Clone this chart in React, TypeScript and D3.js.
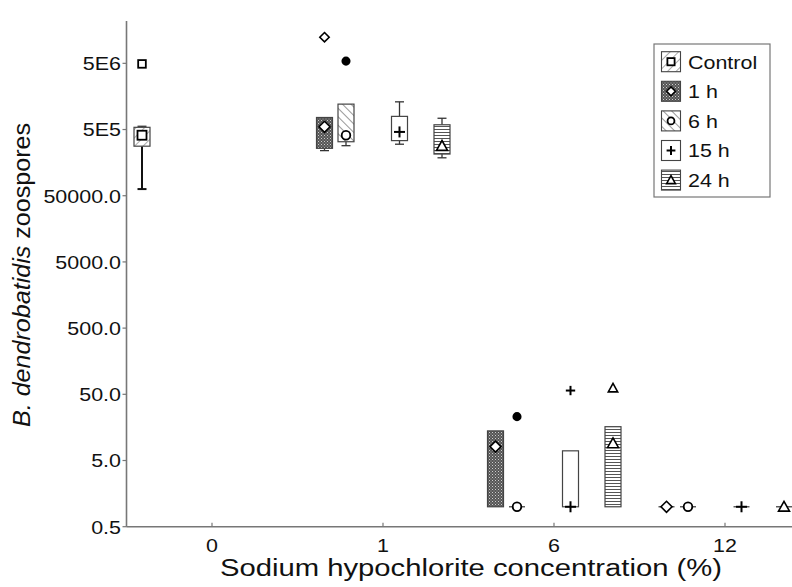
import React, { useEffect } from "react";
import * as d3 from "d3";

const categories = ["0", "1", "6", "12"];
const seriesNames = ["Control", "1 h", "6 h", "15 h", "24 h"];
const yTickValues = [0.5, 5, 50, 500, 5000, 50000, 500000, 5000000];
const yTickLabels = ["0.5", "5.0", "50.0", "500.0", "5000.0", "50000.0", "5E5", "5E6"];

type Box = { cat: string; min: number; q1: number; median: number; q3: number; max: number; outliers: number[] };

const controlBoxes: Box[] = [
  { cat: "0", min: 6.3e4, q1: 2.8e5, median: 4.1e5, q3: 5.4e5, max: 5.6e5, outliers: [4.9e6] },
];
const h1Boxes: Box[] = [
  { cat: "1", min: 2.4e5, q1: 2.6e5, median: 5.5e5, q3: 7.6e5, max: 7.6e5, outliers: [1.24e7] },
  { cat: "6", min: 1, q1: 1, median: 8.1, q3: 14, max: 14, outliers: [] },
  { cat: "12", min: 1, q1: 1, median: 1, q3: 1, max: 1, outliers: [] },
];
const h6Boxes: Box[] = [
  { cat: "1", min: 2.85e5, q1: 3.27e5, median: 4.1e5, q3: 1.21e6, max: 1.21e6, outliers: [5.4e6] },
  { cat: "6", min: 1, q1: 1, median: 1, q3: 1, max: 1, outliers: [23] },
  { cat: "12", min: 1, q1: 1, median: 1, q3: 1, max: 1, outliers: [] },
];
const h15Boxes: Box[] = [
  { cat: "1", min: 3.0e5, q1: 3.4e5, median: 4.6e5, q3: 7.9e5, max: 1.31e6, outliers: [] },
  { cat: "6", min: 1, q1: 1, median: 1, q3: 7.0, max: 7.0, outliers: [57] },
  { cat: "12", min: 1, q1: 1, median: 1, q3: 1, max: 1, outliers: [] },
];
const h24Boxes: Box[] = [
  { cat: "1", min: 1.87e5, q1: 2.13e5, median: 2.82e5, q3: 5.9e5, max: 7.4e5, outliers: [] },
  { cat: "6", min: 1, q1: 1, median: 9.1, q3: 16.2, max: 16.2, outliers: [62] },
  { cat: "12", min: 1, q1: 1, median: 1, q3: 1, max: 1, outliers: [] },
];

const allSeries = [controlBoxes, h1Boxes, h6Boxes, h15Boxes, h24Boxes];

// layout / style
const W = 792, H = 587;
const LEFT = 126.5, BOTTOM = 526.7, TOP = 21;
const seriesOffsets = [-70, -58.5, -37, 16.5, 59];
const fills = ["url(#pCtrl)", "url(#p1h)", "url(#p6h)", "#fff", "url(#p24h)"];
const markers = ["square", "diamond", "circle", "plus", "triangle"];
const outlierFilled = [false, false, true, false, false];
const FONT = "'Liberation Sans', Arial, Helvetica, sans-serif";
const SX = 1.13;

function Marker({ type, x, y, filled, scale = 1 }: { type: string; x: number; y: number; filled?: boolean; scale?: number }) {
  const f = filled ? "#000" : "#fff";
  const sw = 1.8;
  if (type === "square") {
    const s = 9 * scale;
    return <rect x={x - s / 2} y={y - s / 2} width={s} height={s} fill={f} stroke="#000" strokeWidth={sw} />;
  }
  if (type === "diamond") {
    const r = 5.5 * scale;
    return <path d={`M${x},${y - r}L${x + r},${y}L${x},${y + r}L${x - r},${y}Z`} fill={f} stroke="#000" strokeWidth={sw * 0.9} />;
  }
  if (type === "circle") {
    return <circle cx={x} cy={y} r={4.3 * scale} fill={f} stroke="#000" strokeWidth={sw} />;
  }
  if (type === "plus") {
    const r = 5.5 * scale;
    return (
      <g stroke="#000" strokeWidth={2}>
        <line x1={x - r} x2={x + r} y1={y} y2={y} />
        <line x1={x} x2={x} y1={y - r} y2={y + r} />
      </g>
    );
  }
  const r = 5.5 * scale;
  return (
    <path
      d={`M${x},${y - r}L${x + r},${y + r * 0.8}L${x - r},${y + r * 0.8}Z`}
      fill={f}
      stroke="#000"
      strokeWidth={1.6}
    />
  );
}

export default function App() {
  useEffect(() => {
    document.body.style.margin = "0";
  }, []);

  const xBand = d3.scaleBand<string>().domain(categories).range([LEFT, LEFT + 4 * 171]).padding(0);
  const y = d3.scaleLog().domain([0.5, 2.18e7]).range([BOTTOM, TOP]);
  const cx = (cat: string) => (xBand(cat) as number) + xBand.bandwidth() / 2;
  const boxW = 16;
  const capW = 9;

  return (
    <svg width={W} height={H} style={{ position: "absolute", left: 0, top: 0, background: "#fff" }} fontFamily={FONT}>
      <defs>
        <pattern id="pCtrl" width="6" height="6" patternUnits="userSpaceOnUse" patternTransform="rotate(45)">
          <rect width="6" height="6" fill="#fff" />
          <line x1="0" y1="0" x2="0" y2="6" stroke="#555" strokeWidth="1" />
        </pattern>
        <pattern id="p6h" width="6" height="6" patternUnits="userSpaceOnUse" patternTransform="rotate(-45)">
          <rect width="6" height="6" fill="#fff" />
          <line x1="0" y1="0" x2="0" y2="6" stroke="#444" strokeWidth="1.1" />
        </pattern>
        <pattern id="p1h" width="3" height="3" patternUnits="userSpaceOnUse">
          <rect width="3" height="3" fill="#555" />
          <rect x="0" y="0" width="1" height="1" fill="#ccc" />
          <rect x="1.5" y="1.5" width="1" height="1" fill="#aaa" />
        </pattern>
        <pattern id="p24h" width="4" height="3" patternUnits="userSpaceOnUse">
          <rect width="4" height="3" fill="#fff" />
          <line x1="0" y1="0.5" x2="4" y2="0.5" stroke="#555" strokeWidth="1" />
        </pattern>
      </defs>

      {/* axes */}
      <line x1={LEFT} x2={LEFT} y1={TOP} y2={BOTTOM} stroke="#777" strokeWidth={1.6} />
      <line x1={LEFT} x2={W} y1={BOTTOM} y2={BOTTOM} stroke="#777" strokeWidth={1.6} />
      {yTickValues.map((v, i) => (
        <g key={v}>
          <line x1={LEFT - 4} x2={LEFT} y1={y(v)} y2={y(v)} stroke="#777" strokeWidth={1.2} />
          <text transform={`translate(121,${y(v)}) scale(${SX},1)`} dy="0.36em" textAnchor="end" fontSize={19} fill="#111">
            {yTickLabels[i]}
          </text>
        </g>
      ))}
      {categories.map((c) => (
        <g key={c}>
          <line x1={cx(c)} x2={cx(c)} y1={BOTTOM} y2={BOTTOM - 4} stroke="#777" strokeWidth={1.2} />
          <text transform={`translate(${cx(c)},552) scale(${SX},1)`} textAnchor="middle" fontSize={19} fill="#111">
            {c}
          </text>
        </g>
      ))}
      <text x={220} y={576} fontSize={23.5} textLength={502} lengthAdjust="spacingAndGlyphs" fill="#111">
        Sodium hypochlorite concentration (%)
      </text>
      <text transform="translate(30,427) rotate(-90)" fontSize={23.5} textLength={304} lengthAdjust="spacingAndGlyphs" fill="#111">
        <tspan fontStyle="italic">B. dendrobatidis</tspan>
        <tspan> zoospores</tspan>
      </text>

      {/* boxes */}
      {allSeries.map((boxes, si) =>
        boxes.map((b) => {
          const x = cx(b.cat) + seriesOffsets[si];
          const yTop = y(b.q3);
          const yBot = y(b.q1);
          const h = yBot - yTop;
          return (
            <g key={si + b.cat}>
              {b.max > b.q3 && (
                <g stroke="#333" strokeWidth={1.3}>
                  <line x1={x} x2={x} y1={y(b.max)} y2={yTop} />
                  <line x1={x - capW / 2} x2={x + capW / 2} y1={y(b.max)} y2={y(b.max)} />
                </g>
              )}
              {b.min < b.q1 && (
                <g stroke={si === 0 ? "#111" : "#333"} strokeWidth={si === 0 ? 2 : 1.3}>
                  <line x1={x} x2={x} y1={yBot} y2={y(b.min)} />
                  <line x1={x - capW / 2} x2={x + capW / 2} y1={y(b.min)} y2={y(b.min)} />
                </g>
              )}
              {h > 0.5 ? (
                <rect x={x - boxW / 2} y={yTop} width={boxW} height={h} fill={fills[si]} stroke="#444" strokeWidth={1.2} />
              ) : (
                <line x1={x - boxW / 2} x2={x + boxW / 2} y1={yTop} y2={yTop} stroke="#444" strokeWidth={1.3} />
              )}
              <Marker type={markers[si]} x={x} y={y(b.median)} />
              {b.outliers.map((o, oi) => (
                <Marker key={oi} type={markers[si]} x={x} y={y(o)} filled={outlierFilled[si]} scale={0.85} />
              ))}
            </g>
          );
        })
      )}

      {/* legend */}
      <rect x={654} y={44} width={116} height={153} fill="#fff" stroke="#777" strokeWidth={1.2} />
      {seriesNames.map((n, i) => {
        const ry = 61.7 + i * 29.6;
        return (
          <g key={n}>
            <rect x={661.5} y={ry - 10} width={19} height={20} fill={fills[i]} stroke="#444" strokeWidth={1.1} />
            <Marker type={markers[i]} x={671} y={ry} scale={0.8} />
            <text transform={`translate(688,${ry}) scale(${SX},1)`} dy="0.36em" fontSize={19} fill="#111">
              {n}
            </text>
          </g>
        );
      })}
    </svg>
  );
}
